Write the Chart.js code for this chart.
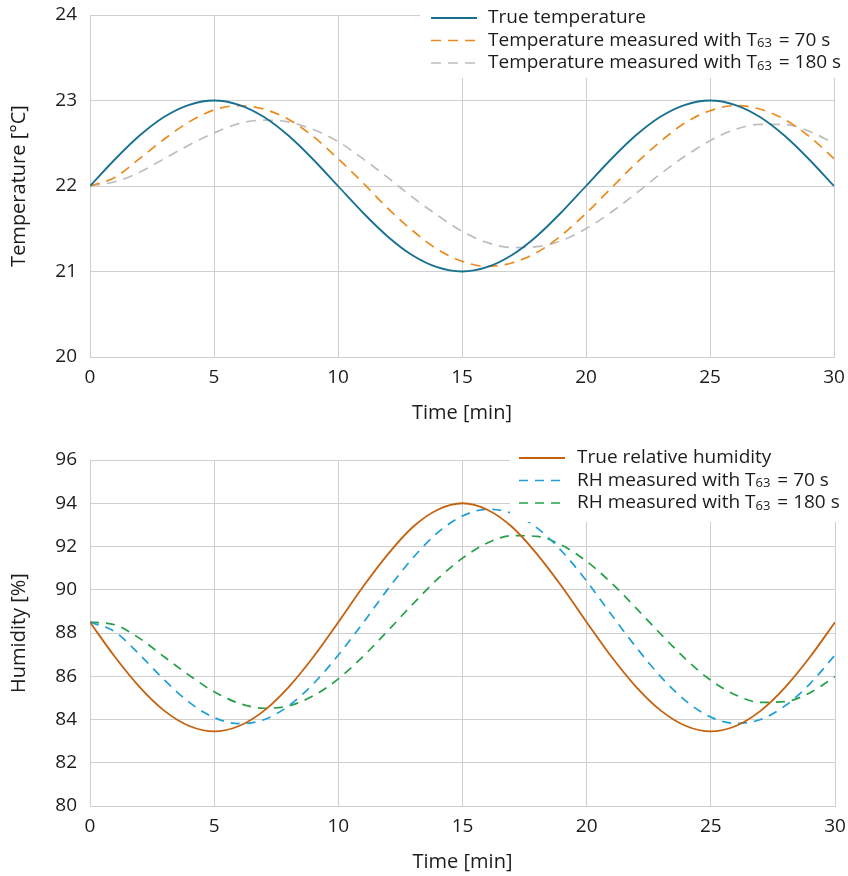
<!DOCTYPE html>
<html>
<head>
<meta charset="utf-8">
<script src="https://cdn.jsdelivr.net/npm/chart.js@4.4.1/dist/chart.umd.min.js"></script>
<style>
  body { margin: 0; background: #fff; }
  canvas { display: block; }
</style>
</head>
<body>
<canvas id="temp" width="848" height="438"></canvas>
<canvas id="hum" width="848" height="438"></canvas>
<script>
// time axis, minutes
var times = [0,1,2,3,4,5,6,7,8,9,10,11,12,13,14,15,16,17,18,19,20,21,22,23,24,25,26,27,28,29,30];

// temperature [°C]
var tempTrue = [22.00,22.31,22.59,22.81,22.95,23.00,22.95,22.81,22.59,22.31,22.00,21.69,21.41,21.19,21.05,21.00,21.05,21.19,21.41,21.69,22.00,22.31,22.59,22.81,22.95,23.00,22.95,22.81,22.59,22.31,22.00];
var temp70 = [22.00,22.10,22.32,22.55,22.75,22.89,22.94,22.90,22.78,22.58,22.32,22.04,21.74,21.48,21.26,21.12,21.06,21.10,21.22,21.42,21.68,21.97,22.26,22.52,22.74,22.88,22.94,22.90,22.78,22.58,22.32];
var temp180 = [22.00,22.05,22.16,22.32,22.48,22.62,22.73,22.77,22.75,22.66,22.52,22.32,22.10,21.87,21.66,21.47,21.34,21.28,21.29,21.36,21.50,21.69,21.91,22.14,22.35,22.53,22.66,22.72,22.72,22.64,22.50];

// relative humidity [%]
var rhTrue = [88.50,86.90,85.50,84.40,83.70,83.45,83.70,84.40,85.50,86.90,88.50,90.15,91.65,92.90,93.70,94.00,93.70,92.90,91.65,90.15,88.50,86.90,85.50,84.40,83.70,83.45,83.70,84.40,85.50,86.90,88.50];
var rh70 = [88.50,88.06,87.00,85.82,84.79,84.09,83.81,83.99,84.63,85.66,86.98,88.47,90.04,91.47,92.64,93.41,93.72,93.53,92.86,91.78,90.40,88.84,87.33,85.96,84.85,84.11,83.82,84.00,84.64,85.66,86.98];
var rh180 = [88.50,88.38,87.75,86.89,86.04,85.28,84.75,84.52,84.63,85.10,85.88,86.92,88.11,89.34,90.50,91.46,92.16,92.50,92.47,92.06,91.31,90.31,89.14,87.93,86.78,85.81,85.13,84.79,84.83,85.24,85.98];

var tempLabels = ["True temperature", "Temperature measured with T₆₃ = 70 s", "Temperature measured with T₆₃ = 180 s"];
var rhLabels = ["True relative humidity", "RH measured with T₆₃ = 70 s", "RH measured with T₆₃ = 180 s"];

var FONT = "'Open Sans', sans-serif";
var GRID = "#cfcfcf";
var INK = "#1c1c1c";

function points(ys) {
  return times.map(function (t, i) { return { x: t, y: ys[i] }; });
}

function line(label, ys, color, dash) {
  return {
    label: label,
    data: points(ys),
    borderColor: color,
    backgroundColor: color,
    borderWidth: dash ? 1.7 : 1.8,
    borderDash: dash || [],
    pointRadius: 0,
    cubicInterpolationMode: "monotone",
    fill: false
  };
}

// legend on a white box inside the plot, subscripts drawn small
var insideLegend = {
  id: "insideLegend",
  afterDraw: function (chart, args, opts) {
    var ctx = chart.ctx;
    ctx.save();
    ctx.fillStyle = "#fff";
    ctx.fillRect(opts.boxX, opts.boxY, chart.width - opts.boxX, opts.boxH);
    chart.data.datasets.forEach(function (ds, i) {
      var y = opts.rowY + i * opts.rowGap;
      ctx.beginPath();
      ctx.strokeStyle = ds.borderColor;
      ctx.lineWidth = ds.borderWidth;
      ctx.setLineDash(ds.borderDash);
      ctx.moveTo(opts.lineX, y);
      ctx.lineTo(opts.lineX + 46, y);
      ctx.stroke();
      ctx.setLineDash([]);
      var x = opts.textX;
      ctx.fillStyle = INK;
      ctx.textBaseline = "middle";
      ds.label.split(/([₀-₉]+)/).forEach(function (p) {
        if (!p) return;
        if (/^[₀-₉]+$/.test(p)) {
          var digits = p.replace(/[₀-₉]/g, function (c) { return String(c.charCodeAt(0) - 0x2080); });
          ctx.font = "13px " + FONT;
          ctx.fillText(digits, x, y + 3);
          x += ctx.measureText(digits).width + 2;
        } else {
          ctx.font = "19px " + FONT;
          ctx.fillText(p, x, y);
          x += ctx.measureText(p).width;
        }
      });
    });
    ctx.restore();
  }
};

function makeChart(id, datasets, yMin, yMax, yStep, yTitle, pad, legendOpts) {
  return new Chart(document.getElementById(id), {
    type: "line",
    data: { datasets: datasets },
    plugins: [insideLegend],
    options: {
      responsive: false,
      animation: false,
      layout: { padding: pad },
      plugins: {
        legend: { display: false },
        tooltip: { enabled: false },
        insideLegend: legendOpts
      },
      scales: {
        x: {
          type: "linear",
          min: 0, max: 30,
          ticks: { stepSize: 5, padding: 9, color: INK, font: { family: FONT, size: 19 } },
          grid: { color: GRID, drawTicks: false },
          border: { color: GRID },
          title: { display: true, text: "Time [min]", color: INK, padding: { top: 2, bottom: 2 }, font: { family: FONT, size: 20 } },
          afterFit: function (s) { s.height = 70; s.paddingLeft = 0; s.paddingRight = 0; }
        },
        y: {
          min: yMin, max: yMax,
          ticks: { stepSize: yStep, padding: 13, color: INK, font: { family: FONT, size: 19 } },
          grid: { color: GRID, drawTicks: false },
          border: { color: GRID },
          title: { display: true, text: yTitle, color: INK, padding: { top: 7, bottom: 7 }, font: { family: FONT, size: 20 } },
          afterFit: function (s) { s.width = 90; s.paddingTop = 0; s.paddingBottom = 0; }
        }
      }
    }
  });
}

var tempChart = makeChart("temp", [
  line(tempLabels[0], tempTrue, "#17708f"),
  line(tempLabels[1], temp70, "#ec8a1e", [10, 7]),
  line(tempLabels[2], temp180, "#bdbdbd", [10, 7])
], 20, 24, 1, "Temperature [°C]",
  { top: 15, right: 14, bottom: 11, left: 0 },
  { boxX: 420, boxY: 8, boxH: 70, rowY: 18, rowGap: 22.5, lineX: 431, textX: 488 });

var humChart = makeChart("hum", [
  line(rhLabels[0], rhTrue, "#c4620f"),
  line(rhLabels[1], rh70, "#1e9fd4", [9, 7]),
  line(rhLabels[2], rh180, "#25a048", [9, 7])
], 80, 96, 2, "Humidity [%]",
  { top: 22, right: 13, bottom: 0, left: 0 },
  { boxX: 510, boxY: 14, boxH: 70, rowY: 20, rowGap: 22.5, lineX: 519, textX: 577 });
</script>
</body>
</html>
